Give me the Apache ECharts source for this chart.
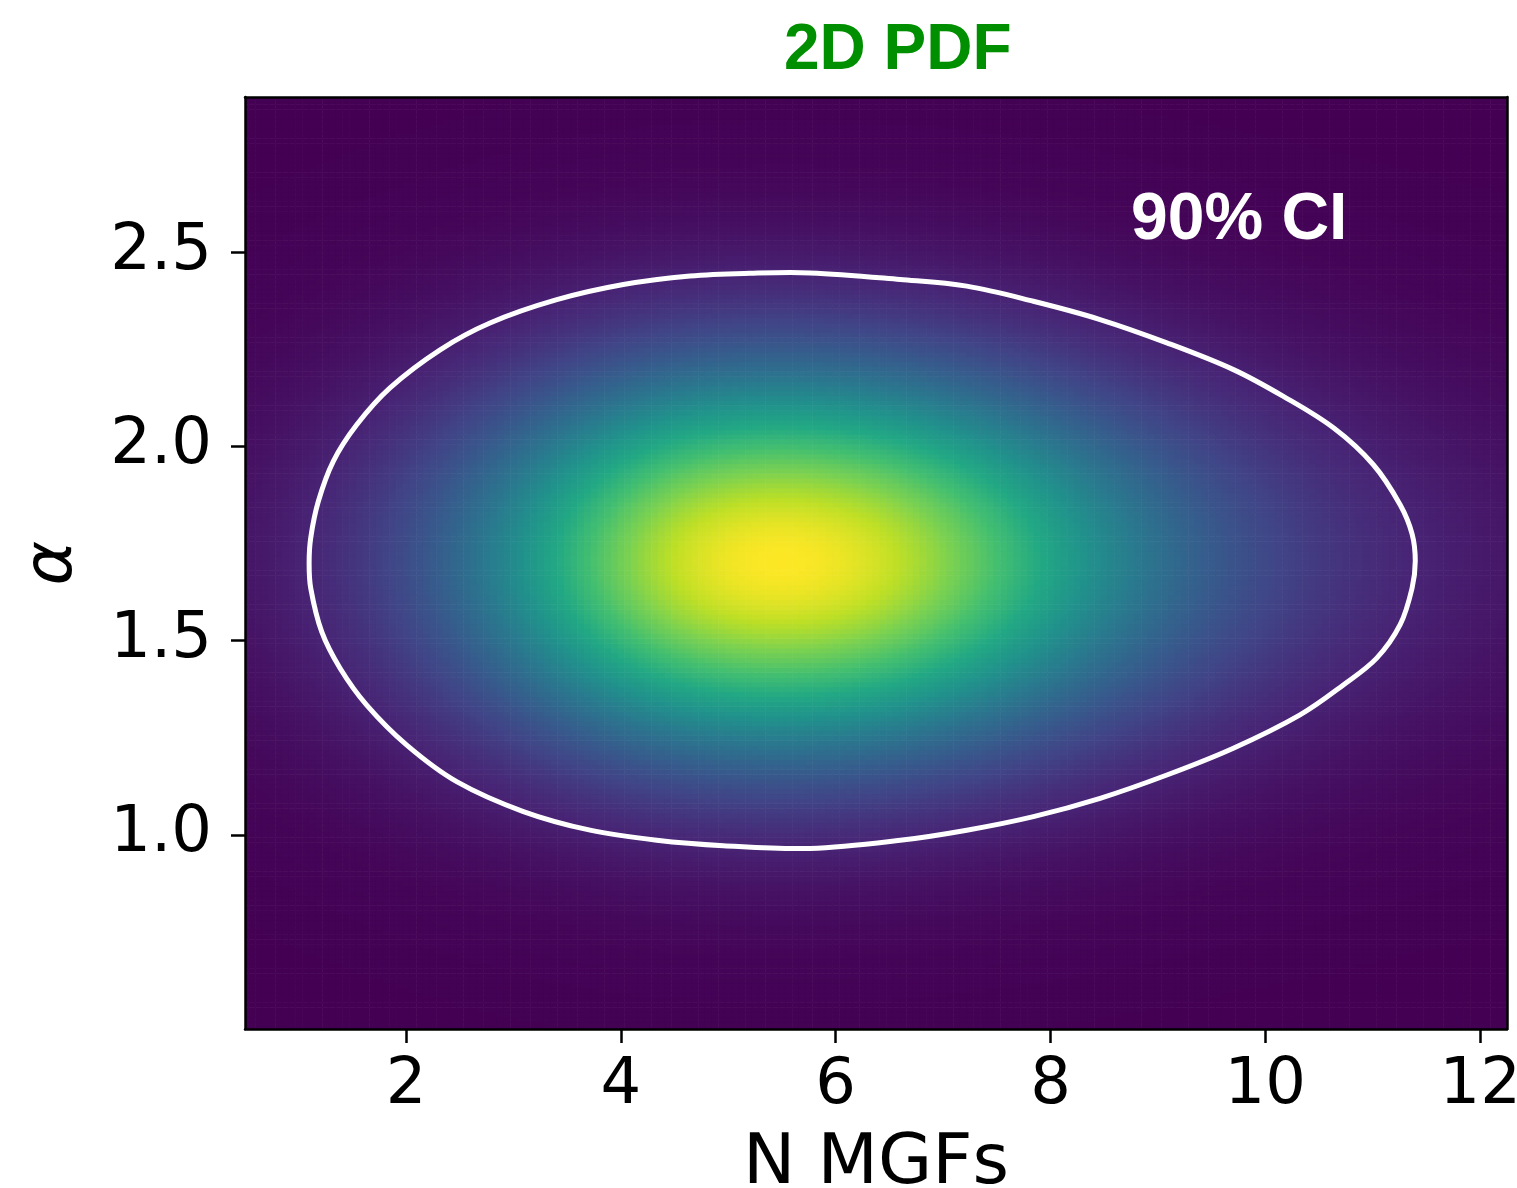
<!DOCTYPE html>
<html>
<head>
<meta charset="utf-8">
<title>2D PDF</title>
<script src="https://cdn.jsdelivr.net/npm/echarts@6.0.0/dist/echarts.min.js"></script>
<style>
  html, body { margin: 0; padding: 0; background: #ffffff; }
  #chart { width: 1517px; height: 1188px; }
</style>
</head>
<body>
<div id="chart"></div>
<script>
// Marginal density profiles (relative to the peak) on a regular sampling grid.
// N MGFs samples: 0.5, 0.5625, ..., 12.25 (one row per unit)
const nMgfStart = 0.5;
const nMgfStep = 0.0625;
const nMgfProfile = [
  0.0572, 0.0610, 0.0651, 0.0694, 0.0739, 0.0787, 0.0838, 0.0891, 0.0948, 0.1007, 0.1069, 0.1135, 0.1204, 0.1276, 0.1352, 0.1431,
  0.1515, 0.1602, 0.1694, 0.1789, 0.1889, 0.1992, 0.2100, 0.2211, 0.2328, 0.2448, 0.2574, 0.2703, 0.2839, 0.2977, 0.3121, 0.3267,
  0.3420, 0.3575, 0.3736, 0.3899, 0.4069, 0.4240, 0.4417, 0.4594, 0.4778, 0.4961, 0.5151, 0.5339, 0.5534, 0.5725, 0.5923, 0.6115,
  0.6314, 0.6506, 0.6703, 0.6893, 0.7088, 0.7274, 0.7464, 0.7642, 0.7825, 0.7994, 0.8167, 0.8326, 0.8487, 0.8633, 0.8781, 0.8913,
  0.9046, 0.9161, 0.9277, 0.9375, 0.9473, 0.9555, 0.9637, 0.9704, 0.9771, 0.9822, 0.9874, 0.9909, 0.9945, 0.9966, 0.9986, 0.9993,
  1.0000, 0.9992, 0.9984, 0.9961, 0.9937, 0.9900, 0.9863, 0.9814, 0.9765, 0.9704, 0.9644, 0.9572, 0.9500, 0.9416, 0.9332, 0.9236,
  0.9140, 0.9032, 0.8925, 0.8806, 0.8689, 0.8562, 0.8436, 0.8301, 0.8169, 0.8028, 0.7889, 0.7743, 0.7600, 0.7450, 0.7303, 0.7151,
  0.7002, 0.6849, 0.6700, 0.6546, 0.6396, 0.6243, 0.6094, 0.5943, 0.5796, 0.5648, 0.5503, 0.5358, 0.5216, 0.5074, 0.4936, 0.4798,
  0.4664, 0.4531, 0.4402, 0.4273, 0.4148, 0.4025, 0.3905, 0.3787, 0.3672, 0.3559, 0.3449, 0.3341, 0.3237, 0.3134, 0.3035, 0.2938,
  0.2844, 0.2752, 0.2662, 0.2575, 0.2491, 0.2409, 0.2329, 0.2251, 0.2176, 0.2103, 0.2032, 0.1963, 0.1897, 0.1833, 0.1771, 0.1710,
  0.1652, 0.1596, 0.1541, 0.1488, 0.1437, 0.1388, 0.1340, 0.1294, 0.1249, 0.1206, 0.1164, 0.1124, 0.1085, 0.1047, 0.1011, 0.0976,
  0.0942, 0.0909, 0.0878, 0.0847, 0.0818, 0.0790, 0.0762, 0.0736, 0.0710, 0.0685, 0.0661, 0.0638, 0.0616
];

// alpha samples: 0.5, 0.5125, ..., 2.9 (one row per 0.2)
const alphaStart = 0.5;
const alphaStep = 0.0125;
const alphaProfile = [
  0.0022, 0.0025, 0.0029, 0.0033, 0.0037, 0.0042, 0.0047, 0.0053, 0.0059, 0.0066, 0.0075, 0.0083, 0.0093, 0.0104, 0.0116, 0.0129,
  0.0144, 0.0160, 0.0177, 0.0196, 0.0217, 0.0240, 0.0264, 0.0291, 0.0321, 0.0352, 0.0387, 0.0424, 0.0464, 0.0507, 0.0554, 0.0604,
  0.0657, 0.0715, 0.0776, 0.0842, 0.0913, 0.0987, 0.1066, 0.1150, 0.1240, 0.1334, 0.1434, 0.1539, 0.1650, 0.1766, 0.1888, 0.2015,
  0.2149, 0.2288, 0.2434, 0.2585, 0.2742, 0.2905, 0.3073, 0.3247, 0.3426, 0.3610, 0.3799, 0.3993, 0.4191, 0.4393, 0.4599, 0.4809,
  0.5021, 0.5235, 0.5452, 0.5670, 0.5890, 0.6109, 0.6329, 0.6547, 0.6766, 0.6981, 0.7194, 0.7404, 0.7610, 0.7811, 0.8008, 0.8198,
  0.8382, 0.8558, 0.8728, 0.8888, 0.9040, 0.9182, 0.9315, 0.9437, 0.9548, 0.9647, 0.9735, 0.9811, 0.9874, 0.9924, 0.9962, 0.9987,
  0.9999, 0.9998, 0.9983, 0.9956, 0.9915, 0.9862, 0.9796, 0.9718, 0.9628, 0.9526, 0.9413, 0.9289, 0.9155, 0.9010, 0.8857, 0.8694,
  0.8524, 0.8345, 0.8160, 0.7969, 0.7772, 0.7569, 0.7362, 0.7152, 0.6939, 0.6722, 0.6504, 0.6285, 0.6066, 0.5845, 0.5627, 0.5408,
  0.5193, 0.4978, 0.4766, 0.4558, 0.4353, 0.4151, 0.3953, 0.3761, 0.3573, 0.3389, 0.3211, 0.3039, 0.2872, 0.2710, 0.2554, 0.2404,
  0.2260, 0.2122, 0.1989, 0.1863, 0.1742, 0.1627, 0.1517, 0.1413, 0.1315, 0.1221, 0.1133, 0.1050, 0.0972, 0.0898, 0.0828, 0.0764,
  0.0703, 0.0646, 0.0593, 0.0544, 0.0498, 0.0456, 0.0416, 0.0379, 0.0346, 0.0314, 0.0286, 0.0259, 0.0235, 0.0212, 0.0192, 0.0173,
  0.0156, 0.0141, 0.0126, 0.0114, 0.0102, 0.0091, 0.0082, 0.0073, 0.0065, 0.0058, 0.0052, 0.0046, 0.0041, 0.0036, 0.0032, 0.0028,
  0.0025
];

// 90% credible region boundary, traced as [N MGFs, alpha] (closed loop)
const ciContour = [
  [5.762, 2.447], [5.200, 2.446], [4.644, 2.439], [4.023, 2.417], [3.403, 2.378],
  [2.781, 2.318], [2.317, 2.249], [1.850, 2.151], [1.540, 2.056], [1.322, 1.962],
  [1.183, 1.859], [1.112, 1.765], [1.097, 1.700], [1.112, 1.635], [1.214, 1.523],
  [1.385, 1.429], [1.633, 1.334], [2.006, 1.231], [2.471, 1.137], [3.092, 1.060],
  [3.713, 1.012], [4.334, 0.986], [4.954, 0.972], [5.762, 0.965], [6.600, 0.986],
  [7.220, 1.012], [7.841, 1.047], [8.462, 1.094], [9.083, 1.154], [9.702, 1.223],
  [10.323, 1.309], [10.726, 1.386], [11.037, 1.455], [11.255, 1.541], [11.366, 1.635],
  [11.396, 1.705], [11.366, 1.775], [11.255, 1.850], [11.006, 1.953], [10.634, 2.048],
  [10.168, 2.129], [9.703, 2.198], [9.083, 2.267], [8.461, 2.327], [7.840, 2.374],
  [7.220, 2.413], [6.600, 2.430]
];

const nMgfTicks = [2, 4, 6, 8, 10, 12];
const alphaTicks = [1.0, 1.5, 2.0, 2.5];

const viridis = [
  '#440154', '#482475', '#414487', '#355f8d', '#2a788e', '#21918c',
  '#22a884', '#44bf70', '#7ad151', '#bddf26', '#fde725'
];

// Density table: product of the two marginal profiles
const cells = [];
for (let i = 0; i < nMgfProfile.length; i++) {
  for (let j = 0; j < alphaProfile.length; j++) {
    cells.push([nMgfStart + i * nMgfStep, alphaStart + j * alphaStep, nMgfProfile[i] * alphaProfile[j]]);
  }
}

function renderCell(params, api) {
  const x = api.value(0);
  const y = api.value(1);
  const p0 = api.coord([x - nMgfStep / 2, y + alphaStep / 2]);
  const p1 = api.coord([x + nMgfStep / 2, y - alphaStep / 2]);
  const cs = params.coordSys;
  const shape = echarts.graphic.clipRectByRect(
    { x: p0[0], y: p0[1], width: p1[0] - p0[0] + 0.6, height: p1[1] - p0[1] + 0.6 },
    { x: cs.x, y: cs.y, width: cs.width, height: cs.height }
  );
  if (!shape) return null;
  return { type: 'rect', shape: shape, style: { fill: api.visual('color') } };
}

// The credible-region outline is drawn once, as a smooth closed curve through all traced points
function renderContour(params, api) {
  if (params.dataIndex !== 0) return null;
  const pts = ciContour.map(function (p) { return api.coord(p); });
  return {
    type: 'polygon',
    shape: { points: pts, smooth: 0.35 },
    style: { fill: 'none', stroke: '#ffffff', lineWidth: 5 }
  };
}

const axisColor = '#000000';
const tickFont = { fontSize: 64, fontFamily: 'DejaVu Sans', color: '#000000' };

const chart = echarts.init(document.getElementById('chart'), null, { renderer: 'canvas' });

chart.setOption({
  animation: false,
  backgroundColor: '#ffffff',
  title: [
    {
      text: '2D PDF', left: 784, top: 19, padding: 0,
      textStyle: { fontSize: 64, fontWeight: 'bold', fontFamily: 'Liberation Sans', color: '#008f00' }
    },
    {
      text: '90% CI', left: 1131, top: 188, padding: 0,
      textStyle: { fontSize: 66, fontWeight: 'bold', fontFamily: 'Liberation Sans', color: '#ffffff' }
    }
  ],
  grid: { left: 245, right: 10, top: 97, bottom: 159, outerBoundsMode: 'none', containLabel: false },
  xAxis: [
    {
      type: 'value', min: 0.5, max: 12.25, position: 'bottom', z: 10,
      axisLine: { show: true, onZero: false, lineStyle: { color: axisColor, width: 2.5 } },
      axisTick: { show: true, length: 14, customValues: nMgfTicks, lineStyle: { color: axisColor, width: 2.5 } },
      axisLabel: Object.assign({ customValues: nMgfTicks, margin: 25, hideOverlap: false }, tickFont),
      splitLine: { show: false },
      name: 'N MGFs', nameLocation: 'middle', nameGap: 101,
      nameTextStyle: { fontSize: 70, fontFamily: 'DejaVu Sans', color: '#000000' }
    },
    {
      type: 'value', min: 0.5, max: 12.25, position: 'top', z: 10,
      axisLine: { show: true, onZero: false, lineStyle: { color: axisColor, width: 2.5 } },
      axisTick: { show: false }, axisLabel: { show: false }, splitLine: { show: false }
    }
  ],
  yAxis: [
    {
      type: 'value', min: 0.5, max: 2.9, position: 'left', z: 10,
      axisLine: { show: true, onZero: false, lineStyle: { color: axisColor, width: 2.5 } },
      axisTick: { show: true, length: 14, customValues: alphaTicks, lineStyle: { color: axisColor, width: 2.5 } },
      axisLabel: Object.assign({
        customValues: alphaTicks, margin: 33,
        formatter: function (v) { return v.toFixed(1); }
      }, tickFont),
      splitLine: { show: false },
      name: 'α', nameLocation: 'middle', nameGap: 158, nameRotate: 90,
      nameTextStyle: { fontSize: 68, fontFamily: 'DejaVu Sans', fontStyle: 'italic', color: '#000000' }
    },
    {
      type: 'value', min: 0.5, max: 2.9, position: 'right', z: 10,
      axisLine: { show: true, onZero: false, lineStyle: { color: axisColor, width: 2.5 } },
      axisTick: { show: false }, axisLabel: { show: false }, splitLine: { show: false }
    }
  ],
  visualMap: {
    type: 'continuous', show: false, min: 0, max: 1, dimension: 2, seriesIndex: 0,
    inRange: { color: viridis }
  },
  series: [
    {
      name: 'density', type: 'custom', renderItem: renderCell,
      xAxisIndex: 0, yAxisIndex: 0,
      dimensions: ['nMgf', 'alpha', 'density'],
      encode: { x: 0, y: 1 },
      data: cells, z: 1, silent: true, progressive: 0
    },
    {
      name: '90% CI', type: 'custom', renderItem: renderContour,
      xAxisIndex: 0, yAxisIndex: 0,
      dimensions: ['nMgf', 'alpha'],
      encode: { x: 0, y: 1 },
      data: ciContour, z: 3, silent: true
    }
  ]
});
</script>
</body>
</html>
